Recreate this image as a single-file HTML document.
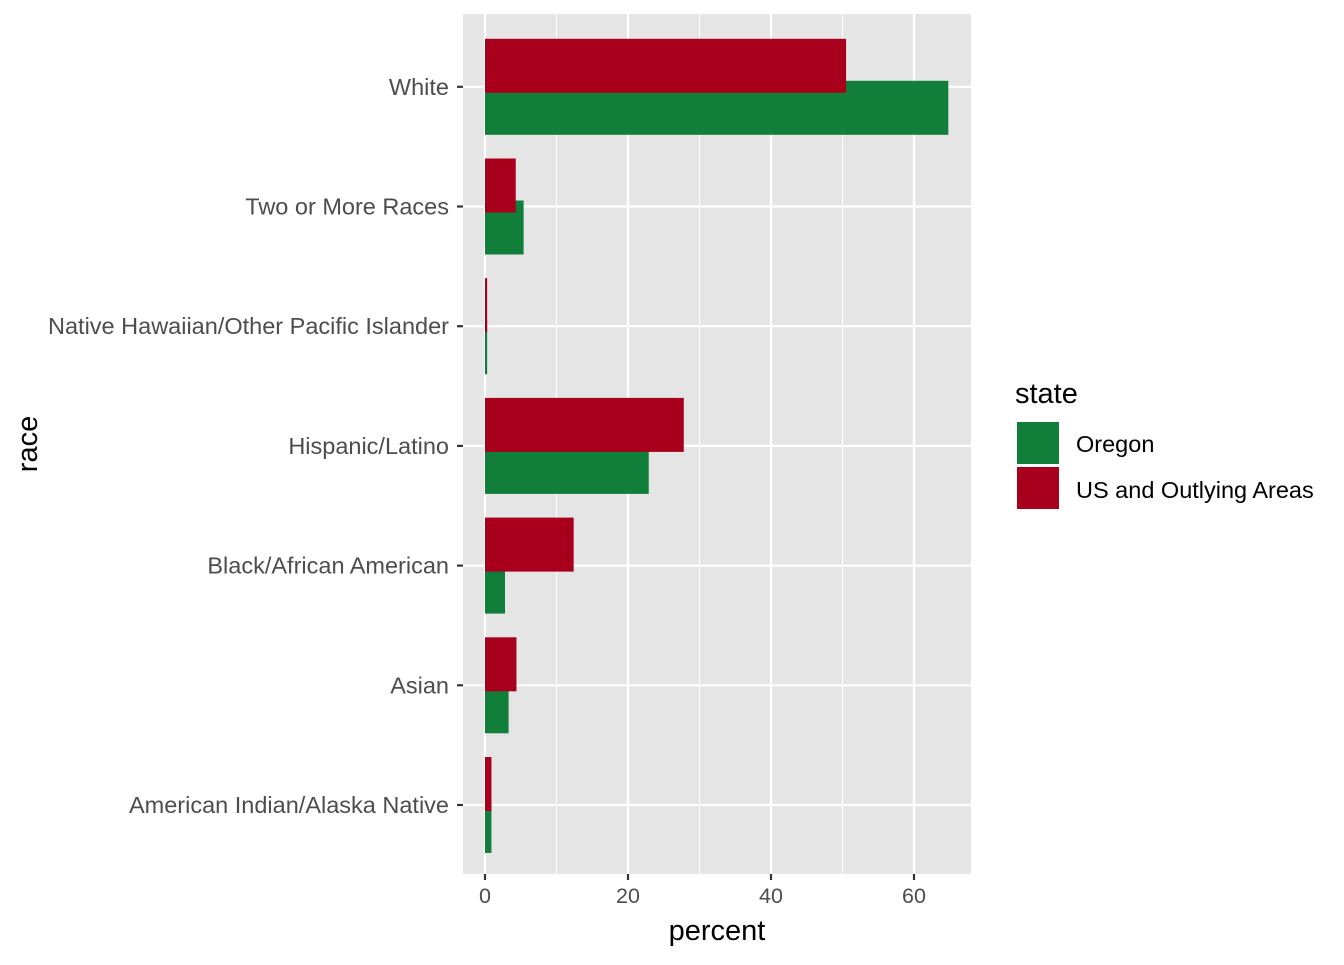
<!DOCTYPE html>
<html><head><meta charset="utf-8"><style>
body{margin:0;background:#fff;}
text{font-family:"Liberation Sans",Arial,sans-serif;}
</style></head><body>
<svg id="chart" width="1344" height="960" xmlns="http://www.w3.org/2000/svg">
<rect x="0" y="0" width="1344" height="960" fill="#fff"/>
<rect x="463" y="14" width="508" height="860" fill="#e5e5e5"/>
<g id="grid"></g>
<g id="bars"></g>
<g id="axes"></g>
<text x="717" y="940" font-size="29" text-anchor="middle" fill="#000">percent</text>
<text x="0" y="0" font-size="29" text-anchor="middle" fill="#000" transform="translate(37,444) rotate(-90)">race</text>
<g>
<text x="1015" y="403" font-size="29" fill="#000">state</text>
<rect x="1017" y="422" width="42" height="42" fill="#117e39"/>
<text x="1076" y="452" font-size="23.5" fill="#000">Oregon</text>
<rect x="1017" y="467" width="42" height="42" fill="#a8001c"/>
<text x="1076" y="498" font-size="23.5" fill="#000">US and Outlying Areas</text>
</g>
</svg>
<script>
const categories=["American Indian/Alaska Native","Asian","Black/African American","Hispanic/Latino","Native Hawaiian/Other Pacific Islander","Two or More Races","White"];
const oregonValues=[0.9,3.3,2.8,22.9,0.3,5.4,64.8];
const usValues=[0.9,4.4,12.4,27.8,0.3,4.3,50.5];
const xTicks=[0,20,40,60];
const xMinor=[10,30,50];
const NS="http://www.w3.org/2000/svg";
const xScale=v=>485+v*7.15;
const yScale=i=>805-i*119.7;
function mk(tag,attrs,parent){const e=document.createElementNS(NS,tag);for(const k in attrs)e.setAttribute(k,attrs[k]);parent.appendChild(e);return e;}
const grid=document.getElementById('grid'),bars=document.getElementById('bars'),axes=document.getElementById('axes');
xMinor.forEach(v=>{const l=mk('line',{x1:xScale(v),x2:xScale(v),y1:14,y2:874,stroke:'#fff','stroke-width':1},grid);

});
xTicks.forEach(v=>{const l=mk('line',{x1:xScale(v),x2:xScale(v),y1:14,y2:874,stroke:'#fff','stroke-width':2.2},grid);


const t=mk('line',{x1:xScale(v),x2:xScale(v),y1:874,y2:880,stroke:'#333','stroke-width':2.2},axes);


const tx=mk('text',{x:xScale(v),y:903,'font-size':21.5,'text-anchor':'middle',fill:'#4d4d4d'},axes);tx.textContent=v;

});
categories.forEach((c,i)=>{const y=yScale(i);
const l=mk('line',{x1:463,x2:971,y1:y,y2:y,stroke:'#fff','stroke-width':2.2},grid);


const t=mk('line',{x1:457,x2:463,y1:y,y2:y,stroke:'#333','stroke-width':2.2},axes);


const tx=mk('text',{x:449,y:y+8,'font-size':23.5,'text-anchor':'end',fill:'#4d4d4d'},axes);tx.textContent=c;


const g=mk('rect',{x:xScale(0),y:y+21-27,width:xScale(oregonValues[i])-xScale(0),height:54,fill:'#117e39'},bars);

});
categories.forEach((c,i)=>{const y=yScale(i);
const r=mk('rect',{x:xScale(0),y:y-21-27,width:xScale(usValues[i])-xScale(0),height:54,fill:'#a8001c'},bars);

});
</script>
</body></html>
